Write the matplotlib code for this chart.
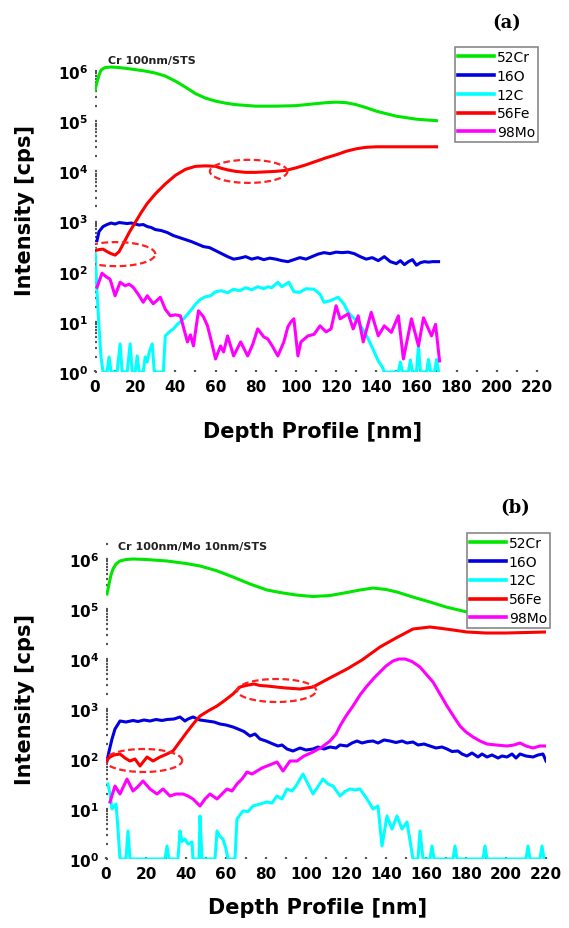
import matplotlib
matplotlib.use("Agg")
import matplotlib.pyplot as plt
import numpy as np
from matplotlib.ticker import FixedLocator, FuncFormatter, LogLocator, NullFormatter

# ---- data: depth [nm] and log10(intensity [cps]) ----
LABELS = ["52Cr", "16O", "12C", "56Fe", "98Mo"]
COLORS = ["#00e600", "#0000e0", "#00ffff", "#ff0000", "#ff00ff"]

# panel (a) : Cr 100nm/STS
a_cr_x = [0, 1, 2, 3, 5, 8, 12, 18, 25, 30, 35, 40, 45, 50, 55, 60, 65, 70, 80, 90,
          100, 110, 115, 120, 125, 130, 135, 140, 150, 160, 170]
a_cr_y = [5.62, 5.78, 5.92, 6.02, 6.07, 6.08, 6.07, 6.04, 6.0, 5.96, 5.9, 5.8, 5.68, 5.55, 5.46, 5.40, 5.36, 5.33, 5.30, 5.30,
          5.31, 5.35, 5.37, 5.38, 5.37, 5.33, 5.27, 5.2, 5.1, 5.04, 5.01]

a_o_x = [1, 2, 4, 6, 8, 10, 12, 14, 16, 18,
         20, 22, 24, 26, 28, 30, 33, 36, 39, 42,
         45, 48, 51, 54, 57, 60, 63, 66, 69, 72,
         75, 78, 81, 84, 87, 90, 93, 96, 99, 102,
         105, 108, 111, 114, 117, 120, 123, 126, 129, 132,
         135, 138, 141, 144, 147, 150, 152, 154, 156, 158,
         160, 162, 164, 166, 168, 171]
a_o_y = [2.62, 2.8, 2.9, 2.94, 2.97, 2.95, 2.98, 2.97, 2.96, 2.97,
         2.95, 2.93, 2.94, 2.9, 2.88, 2.84, 2.82, 2.78, 2.72, 2.68,
         2.64, 2.6, 2.55, 2.5, 2.48, 2.42, 2.36, 2.3, 2.25, 2.27,
         2.3, 2.25, 2.28, 2.24, 2.27, 2.25, 2.22, 2.2, 2.24, 2.28,
         2.25, 2.3, 2.35, 2.38, 2.36, 2.39, 2.38, 2.39, 2.36, 2.3,
         2.25, 2.28, 2.22, 2.3, 2.2, 2.16, 2.22, 2.14, 2.2, 2.24,
         2.13, 2.18, 2.2, 2.19, 2.2, 2.2]

a_c_x = [0, 1, 2, 3, 4, 6, 7, 8, 11, 12.5,
         13.5, 16, 17.5, 18.5, 20, 21, 22, 24, 25, 26,
         27, 28.5, 29.5, 34, 35, 37, 39, 41, 42.5, 45,
         47.5, 50, 52.5, 55, 57.5, 60, 63, 66, 69, 72,
         75, 78, 81, 84, 86, 88, 91, 93, 96.5, 99,
         102, 105, 109, 112, 114, 117, 121, 124, 126, 128,
         131, 134, 136, 139, 141, 143, 144, 151, 152, 153,
         156, 157, 158, 160, 161, 162, 165, 166, 167, 169,
         170, 171]
a_c_y = [2.45, 1.6, 0.9, 0.3, 0, 0, 0.3, 0, 0, 0.56,
         0, 0, 0.56, 0, 0, 0.32, 0, 0, 0.3, 0.2,
         0.4, 0.56, 0, 0, 0.72, 0.8, 0.86, 0.95, 1.0, 1.1,
         1.22, 1.35, 1.45, 1.5, 1.52, 1.6, 1.62, 1.58, 1.65, 1.62,
         1.68, 1.64, 1.7, 1.66, 1.7, 1.68, 1.79, 1.7, 1.79, 1.6,
         1.59, 1.66, 1.65, 1.55, 1.39, 1.42, 1.49, 1.35, 1.19, 1.1,
         1.0, 0.8, 0.66, 0.4, 0.22, 0.1, 0, 0, 0.2, 0,
         0, 0.24, 0, 0, 0.52, 0, 0, 0.25, 0, 0,
         0.25, 0]

a_fe_x = [0, 2, 4, 6, 8, 10, 12, 14, 17, 20,
          23, 26, 30, 35, 40, 45, 50, 55, 60, 63,
          66, 70, 75, 80, 85, 90, 95, 100, 105, 110,
          115, 120, 125, 130, 135, 140, 150, 160, 170]
a_fe_y = [2.42, 2.44, 2.45, 2.40, 2.36, 2.33, 2.40, 2.55, 2.78, 2.98,
          3.18, 3.36, 3.55, 3.75, 3.92, 4.04, 4.10, 4.11, 4.10, 4.06,
          4.03, 4.0, 3.98, 3.98, 3.99, 4.0, 4.02, 4.07, 4.13, 4.2,
          4.27, 4.33, 4.4, 4.45, 4.48, 4.49, 4.49, 4.49, 4.49]

a_mo_x = [1, 3.5, 5.5, 7.5, 10, 12.5, 15, 17, 19, 21.5,
          24, 26, 29, 32.5, 35, 37.5, 40, 42.5, 46, 47.5,
          49, 51.5, 54, 56, 58, 60, 62.5, 64, 66, 69,
          72.5, 76, 78.5, 81, 84, 86, 88.5, 91, 94, 96,
          97.5, 99, 101, 102.5, 106, 109, 112, 115, 117.5, 120,
          122, 126, 128.5, 131, 133.5, 137.5, 141, 144, 147.5, 151,
          153.5, 157.5, 161, 163.5, 167.5, 169.5, 171.5]
a_mo_y = [1.69, 1.97, 1.9, 1.85, 1.52, 1.79, 1.72, 1.75, 1.69, 1.55,
          1.39, 1.52, 1.36, 1.49, 1.25, 1.12, 1.14, 1.12, 0.6, 0.74,
          0.52, 1.22, 1.1, 0.92, 0.6, 0.26, 0.52, 0.4, 0.72, 0.32,
          0.6, 0.32, 0.55, 0.86, 0.7, 0.66, 0.5, 0.32, 0.6, 0.9,
          1.0, 1.06, 0.32, 0.6, 0.72, 0.75, 0.92, 0.8, 0.86, 1.32,
          1.06, 1.16, 0.86, 1.12, 0.6, 1.19, 0.72, 0.92, 0.79, 1.12,
          0.26, 1.06, 0.52, 1.08, 0.72, 0.95, 0.22]

# panel (b) : Cr 100nm/Mo 10nm/STS
b_cr_x = [0.5, 1.5, 2.5, 3.5, 5, 7, 10, 13.5, 20, 30.5,
          40, 47, 55, 63.5, 72, 80.5, 87, 95, 103.5, 112,
          120.5, 127, 133.5, 140, 145.5, 155, 162, 170, 180.5, 190,
          200, 210, 220]
b_cr_y = [5.3, 5.5, 5.68, 5.8, 5.9, 5.96, 5.99, 6.0, 5.99, 5.96,
          5.91, 5.86, 5.77, 5.64, 5.5, 5.38, 5.33, 5.28, 5.25, 5.27,
          5.33, 5.38, 5.42, 5.39, 5.34, 5.22, 5.14, 5.04, 4.94, 4.9,
          4.87, 4.85, 4.84]

b_o_x = [0.5, 1.5, 3, 4.5, 7, 10, 13.5, 16, 19, 22,
         25, 28, 30.5, 34, 37, 39.5, 41, 43.5, 47, 50.5,
         54, 57, 60, 63.5, 66, 69, 72, 74.5, 77, 80,
         83.5, 86, 88, 90.5, 93.5, 97, 100, 103.5, 106, 109,
         112, 115, 117, 120.5, 123, 125.5, 128, 131, 133.5, 136,
         139, 142, 145, 148, 150.5, 153.5, 156, 159, 162, 165,
         168, 170.5, 173, 176, 178, 180.5, 183, 186, 188, 190.5,
         193, 196, 198, 200.5, 203, 205, 207, 210, 213.5, 216,
         218.5, 220]
b_o_y = [1.96, 2.15, 2.4, 2.6, 2.76, 2.74, 2.77, 2.75, 2.78, 2.76,
         2.79, 2.77, 2.79, 2.8, 2.84, 2.76, 2.8, 2.84, 2.78, 2.76,
         2.74, 2.7, 2.68, 2.64, 2.6, 2.55, 2.46, 2.5, 2.4, 2.36,
         2.3, 2.26, 2.28, 2.2, 2.16, 2.22, 2.18, 2.2, 2.24, 2.2,
         2.24, 2.22, 2.28, 2.26, 2.32, 2.36, 2.32, 2.35, 2.36, 2.32,
         2.38, 2.36, 2.33, 2.36, 2.32, 2.34, 2.28, 2.3, 2.26, 2.22,
         2.24, 2.2, 2.15, 2.16, 2.1, 2.06, 2.12, 2.04, 2.1, 2.04,
         2.08, 2.02, 2.06, 2.04, 2.1, 2.02, 2.1, 2.06, 2.04, 2.08,
         2.1, 1.96]

b_c_x = [1, 2, 3, 4, 5, 6, 7, 10, 11, 12,
         29.5, 30.5, 31.5, 36, 37, 38, 39.5, 41, 43, 43.5,
         46.5, 47, 48, 54.5, 55.5, 57, 58.5, 60, 61, 64.5,
         65.5, 68.5, 71, 73.5, 77, 80.5, 83, 85.5, 88, 90.5,
         93, 95, 97, 98.5, 101, 103.5, 106, 108.5, 111, 113.5,
         117, 119.5, 122, 124.5, 127, 130.5, 133.5, 136, 138, 140.5,
         143, 145.5, 148, 150.5, 153.5, 156, 157, 158.5, 162, 163,
         164, 173.5, 174.5, 175.5, 188.5, 189.5, 190.5, 210, 211, 212,
         217, 218, 219]
b_c_y = [1.5, 1.3, 1.0, 1.05, 1.1, 0.6, 0, 0, 0.56, 0,
         0, 0.26, 0, 0, 0.56, 0.35, 0.4, 0.3, 0.34, 0,
         0, 0.86, 0, 0, 0.56, 0.45, 0.4, 0.2, 0, 0,
         0.8, 0.96, 0.95, 1.06, 1.1, 1.14, 1.12, 1.26, 1.2, 1.4,
         1.36, 1.46, 1.6, 1.7, 1.5, 1.3, 1.45, 1.6, 1.5, 1.46,
         1.26, 1.35, 1.4, 1.38, 1.4, 1.2, 1.0, 1.06, 0.26, 0.86,
         0.6, 0.86, 0.6, 0.74, 0, 0, 0.56, 0, 0, 0.26,
         0, 0, 0.26, 0, 0, 0.26, 0, 0, 0.26, 0,
         0, 0.26, 0]

b_fe_x = [0, 2, 4, 7, 9.5, 12, 14.5, 17, 20.5, 23.5,
          27, 30.5, 33.5, 37, 40.5, 44, 47, 51, 55.5, 59,
          63.5, 67, 70, 74, 77, 80.5, 85, 90, 97, 103.5,
          110, 120.5, 128, 137, 145, 153.5, 162, 170, 180.5, 190,
          200, 210, 220]
b_fe_y = [1.96, 2.04, 2.08, 2.1, 2.02, 1.96, 2.0, 1.86, 2.04, 1.96,
          2.04, 2.1, 2.16, 2.35, 2.54, 2.72, 2.86, 2.96, 3.06, 3.16,
          3.3, 3.44, 3.47, 3.5, 3.47, 3.46, 3.44, 3.42, 3.4, 3.44,
          3.58, 3.8, 3.98, 4.24, 4.42, 4.6, 4.64, 4.6, 4.54, 4.52,
          4.52, 4.53, 4.54]

b_mo_x = [2, 4.5, 7, 10.5, 13.5, 16, 18.5, 22, 25.5, 28.5,
          32, 35, 38.5, 41, 43.5, 47, 49.5, 52, 55.5, 58,
          60.5, 63, 65.5, 68, 70.5, 73, 75.5, 78, 80.5, 83,
          85.5, 88.5, 92, 95.5, 99, 103.5, 108, 112, 115, 117,
          120, 123.5, 127, 130.5, 134, 137, 140, 143.5, 146.5, 149.5,
          153, 157, 160, 163.5, 167, 170.5, 174, 177, 180, 183.5,
          187, 190.5, 195, 200.5, 204, 207, 210, 213.5, 217, 220]
b_mo_y = [1.14, 1.46, 1.3, 1.6, 1.36, 1.45, 1.56, 1.4, 1.3, 1.4,
          1.26, 1.3, 1.3, 1.26, 1.2, 1.06, 1.2, 1.3, 1.2, 1.3,
          1.4, 1.36, 1.5, 1.6, 1.74, 1.7, 1.76, 1.82, 1.86, 1.9,
          1.94, 1.76, 1.96, 1.96, 2.06, 2.14, 2.24, 2.36, 2.5, 2.66,
          2.86, 3.06, 3.28, 3.46, 3.62, 3.74, 3.86, 3.96, 4.0, 4.0,
          3.95, 3.84, 3.7, 3.54, 3.3, 3.06, 2.84, 2.66, 2.54, 2.44,
          2.36, 2.3, 2.28, 2.26, 2.28, 2.32, 2.26, 2.22, 2.26, 2.26]

X_TICKS = list(range(0, 221, 20))
Y_DECADES = [0, 1, 2, 3, 4, 5, 6]

# dashed marks around the Fe features: (centre depth, centre log10, half width nm, half height decades)
a_rings = [(10.5, 2.35, 19.5, 0.24), (76.5, 4.0, 19.3, 0.23)]
b_rings = [(18.8, 1.97, 19.3, 0.23), (85.3, 3.37, 19.8, 0.23)]


def draw_panel(fig, rect, series, title, title_pos, ylim_top, rings, legend_anchor, tag, tag_pos):
    ax = fig.add_axes(rect)
    for (x, logy), label, color in zip(series, LABELS, COLORS):
        ax.plot(x, 10.0 ** np.asarray(logy), color=color, lw=2.2, label=label,
                solid_joinstyle="round")

    t = np.linspace(0, 2 * np.pi, 200)
    for cx, cy, hw, hh in rings:
        ax.plot(cx + hw * np.cos(t), 10.0 ** (cy + hh * np.sin(t)),
                color="#ff2020", lw=1.6, ls=(0, (3, 1.6)))

    ax.set_yscale("log")
    ax.set_xlim(0, 220)
    ax.set_ylim(1, 10 ** ylim_top)
    for s in ax.spines.values():
        s.set_visible(False)

    ax.xaxis.set_major_locator(FixedLocator(X_TICKS))
    ax.xaxis.set_minor_locator(FixedLocator(list(range(10, 221, 20))))
    ax.yaxis.set_major_locator(FixedLocator([10.0 ** d for d in Y_DECADES]))
    ax.yaxis.set_minor_locator(LogLocator(base=10, subs=np.arange(2, 10), numticks=20))
    ax.yaxis.set_major_formatter(FuncFormatter(
        lambda v, p: r"$\mathbf{10^{%d}}$" % round(np.log10(v))))
    ax.yaxis.set_minor_formatter(NullFormatter())
    ax.tick_params(which="both", direction="in", length=1.5, width=1.6, color="#555555")
    ax.tick_params(axis="x", which="major", labelsize=11, pad=5)
    ax.tick_params(axis="y", which="major", labelsize=11, pad=5)
    for lab in ax.get_xticklabels():
        lab.set_fontweight("bold")

    fig.text(title_pos[0], title_pos[1], title, fontsize=8, fontweight="bold",
             color="#222222", va="center", ha="left")
    fig.text(tag_pos[0], tag_pos[1], tag, fontsize=13, fontweight="bold",
             family="DejaVu Serif", va="center", ha="center")

    leg = ax.legend(loc="upper left", bbox_to_anchor=legend_anchor,
                    bbox_transform=fig.transFigure, fancybox=False,
                    edgecolor="#888888", framealpha=1, fontsize=10,
                    handlelength=2.6, handletextpad=0.2, borderpad=0.2,
                    labelspacing=0.35, borderaxespad=0)
    leg.get_frame().set_linewidth(1.2)
    for line in leg.get_lines():
        line.set_linewidth(2.6)
    return ax


W, H = 569, 929
fig = plt.figure(figsize=(W / 100, H / 100), dpi=100)

series_a = [(a_cr_x, a_cr_y), (a_o_x, a_o_y), (a_c_x, a_c_y), (a_fe_x, a_fe_y), (a_mo_x, a_mo_y)]
series_b = [(b_cr_x, b_cr_y), (b_o_x, b_o_y), (b_c_x, b_c_y), (b_fe_x, b_fe_y), (b_mo_x, b_mo_y)]

draw_panel(fig, [95 / W, 1 - 373 / H, 442 / W, 316 / H], series_a, "Cr 100nm/STS",
           (108 / W, 1 - 61 / H), 6.3, a_rings, (455 / W, 1 - 48 / H), "(a)", (507 / W, 1 - 23 / H))
draw_panel(fig, [106 / W, 1 - 860 / H, 440 / W, 318 / H], series_b, "Cr 100nm/Mo 10nm/STS",
           (118 / W, 1 - 547 / H), 6.36, b_rings, (467 / W, 1 - 534 / H), "(b)", (515 / W, 1 - 508 / H))

for ylab_y, xlab_x, xlab_y in [(210, 313, 432), (700, 318, 908)]:
    fig.text(25 / W, 1 - ylab_y / H, "Intensity [cps]", rotation=90, fontsize=15,
             fontweight="bold", va="center", ha="center")
    fig.text(xlab_x / W, 1 - xlab_y / H, "Depth Profile [nm]", fontsize=15,
             fontweight="bold", va="center", ha="center")

fig.savefig("out.png", dpi=100)
